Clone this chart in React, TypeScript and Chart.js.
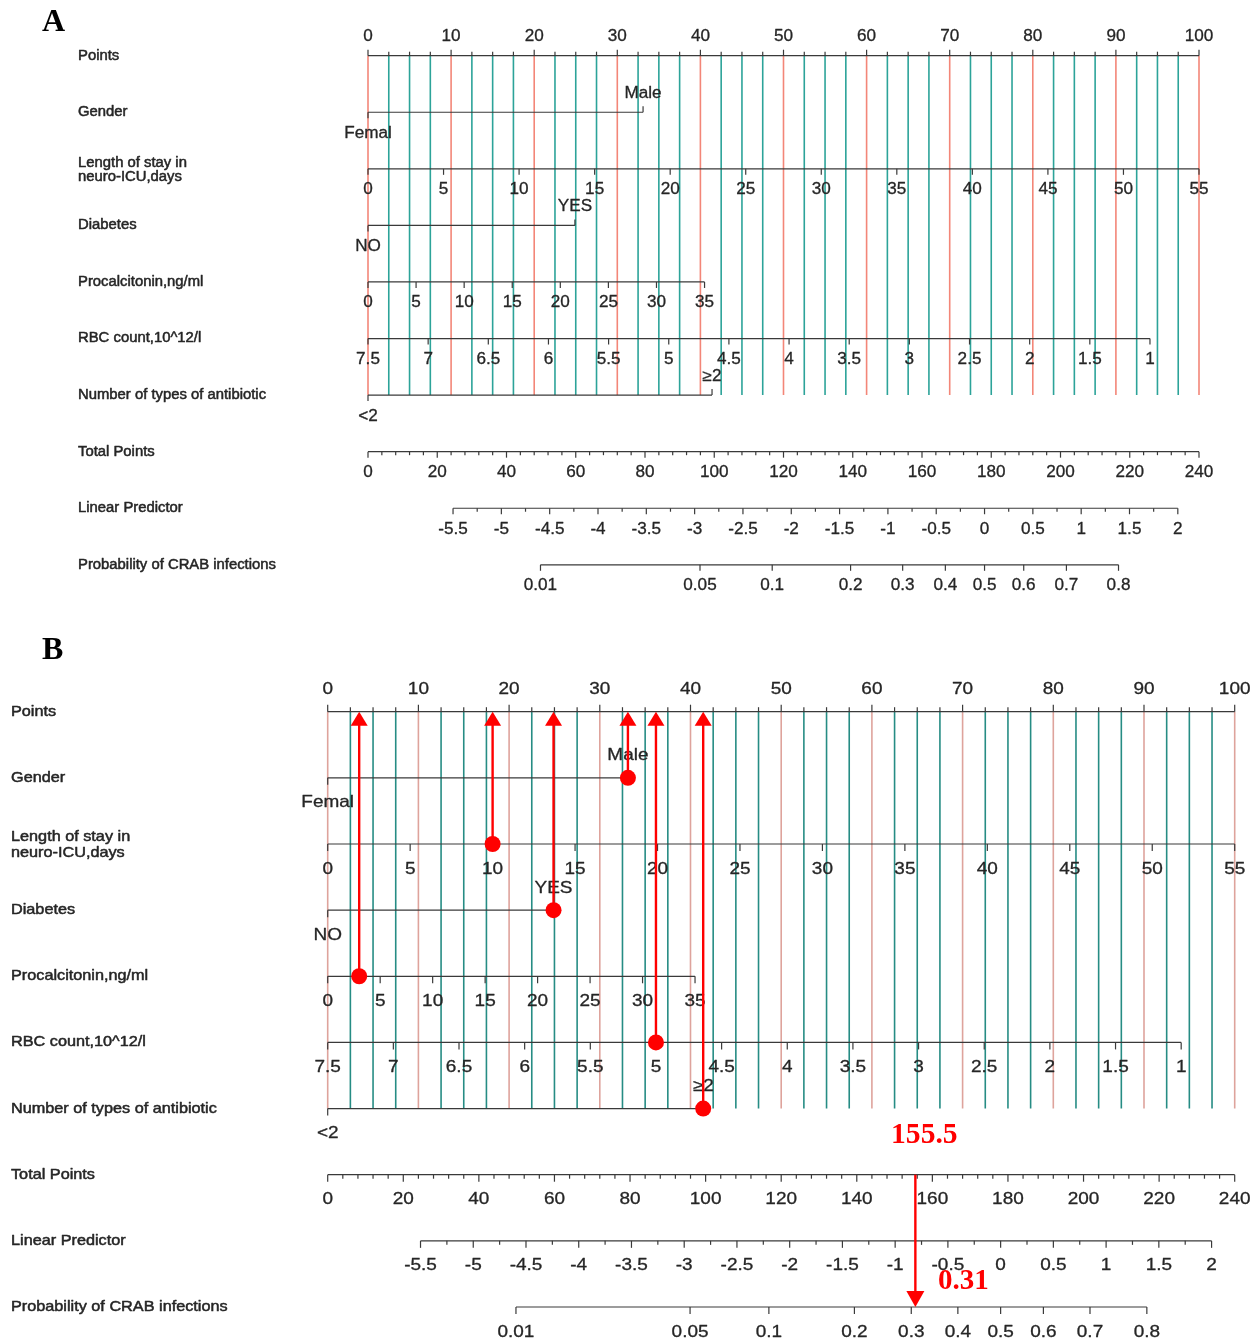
import React, { useEffect, useRef } from "react";
import { Chart, registerables } from "chart.js";

Chart.register(...registerables);

// ---------------- data ----------------
const ROW_LABELS = [
  "Points",
  "Gender",
  "Length of stay in\nneuro-ICU,days",
  "Diabetes",
  "Procalcitonin,ng/ml",
  "RBC count,10^12/l",
  "Number of types of antibiotic",
  "Total Points",
  "Linear Predictor",
  "Probability of CRAB infections",
];

const POINTS_TICKS = [0, 10, 20, 30, 40, 50, 60, 70, 80, 90, 100];
const POINTS_MINOR_STEP = 2.5;

const GENDER_LEVELS = ["Femal", "Male"];
const GENDER_POINTS = [0, 33.1];

const LOS_TICKS = [0, 5, 10, 15, 20, 25, 30, 35, 40, 45, 50, 55];
const LOS_POINTS_AT_MAX = 100;

const DIABETES_LEVELS = ["NO", "YES"];
const DIABETES_POINTS = [0, 24.9];

const PCT_TICKS = [0, 5, 10, 15, 20, 25, 30, 35];
const PCT_POINTS_AT_MAX = 40.5;

const RBC_TICKS = [7.5, 7, 6.5, 6, 5.5, 5, 4.5, 4, 3.5, 3, 2.5, 2, 1.5, 1];
const RBC_POINTS_AT_MIN = 94.1;

const ABX_LEVELS = ["<2", "≥2"];
const ABX_POINTS = [0, 41.4];

const TOTAL_TICKS = [0, 20, 40, 60, 80, 100, 120, 140, 160, 180, 200, 220, 240];
const TOTAL_MINOR_STEP = 4;

const LP_TICKS = [-5.5, -5, -4.5, -4, -3.5, -3, -2.5, -2, -1.5, -1, -0.5, 0, 0.5, 1, 1.5, 2];
const LP_MINOR_STEP = 0.25;
const LP_INTERCEPT = -6.38;
const LP_SLOPE = 0.03583;

const PROB_TICKS = [0.01, 0.05, 0.1, 0.2, 0.3, 0.4, 0.5, 0.6, 0.7, 0.8];

// example patient shown in panel B
const EXAMPLE_GENDER = 1; // Male
const EXAMPLE_LOS = 10;
const EXAMPLE_DIABETES = 1; // YES
const EXAMPLE_PCT = 3;
const EXAMPLE_RBC = 5;
const EXAMPLE_ABX = 1; // >=2
const EXAMPLE_TOTAL = 155.5;

// ---------------- value -> points mappings ----------------
const last = (a: number[]) => a[a.length - 1];
const losPts = (v: number) => (v / last(LOS_TICKS)) * LOS_POINTS_AT_MAX;
const pctPts = (v: number) => (v / last(PCT_TICKS)) * PCT_POINTS_AT_MAX;
const rbcPts = (v: number) =>
  ((RBC_TICKS[0] - v) / (RBC_TICKS[0] - last(RBC_TICKS))) * RBC_POINTS_AT_MIN;
const totPts = (v: number) => (v / last(TOTAL_TICKS)) * 100;
const lpPts = (lp: number) => totPts((lp - LP_INTERCEPT) / LP_SLOPE);
const probPts = (p: number) => lpPts(Math.log(p / (1 - p)));

type Style = {
  title: string;
  titleX: number;
  titleY: number;
  rowLabelX: number;
  rowFont: number;
  rowSx: number;
  rowLineGap: number;
  tickFont: number;
  tickSx: number;
  below: number;
  above: number;
  red: string;
  teal: string;
  gridW: number;
  axisColor: string;
  axisW: number;
  majorTick: number;
  minorTick: number;
  pointsMajorTick: number;
  pointsMinorTick: number;
};

const STYLE_A: Style = {
  title: "A",
  titleX: 42,
  titleY: 31,
  rowLabelX: 78,
  rowFont: 14,
  rowSx: 1.06,
  rowLineGap: 14,
  tickFont: 16,
  tickSx: 1.07,
  below: 21,
  above: -19,
  red: "rgb(243,134,120)",
  teal: "rgb(44,163,153)",
  gridW: 1.6,
  axisColor: "#3a3a3a",
  axisW: 1.2,
  majorTick: 6,
  minorTick: 3.5,
  pointsMajorTick: 6,
  pointsMinorTick: 4,
};

const STYLE_B: Style = {
  title: "B",
  titleX: 42,
  titleY: 39,
  rowLabelX: 11,
  rowFont: 14.5,
  rowSx: 1.12,
  rowLineGap: 16,
  tickFont: 16.5,
  tickSx: 1.15,
  below: 25,
  above: -22,
  red: "rgb(222,163,156)",
  teal: "rgb(38,140,132)",
  gridW: 1.6,
  axisColor: "#3a3a3a",
  axisW: 1.2,
  majorTick: 7,
  minorTick: 4,
  pointsMajorTick: 7,
  pointsMinorTick: 4.5,
};

const TEXT = "#262626";
const RED = "rgb(255,0,0)";

function seg(ctx: CanvasRenderingContext2D, x0: number, y0: number, x1: number, y1: number) {
  ctx.beginPath();
  ctx.moveTo(x0, y0);
  ctx.lineTo(x1, y1);
  ctx.stroke();
}

function drawText(
  ctx: CanvasRenderingContext2D,
  s: string,
  x: number,
  y: number,
  font: string,
  sx: number,
  align: CanvasTextAlign,
  baseline: CanvasTextBaseline,
  color: string,
  thicken = 0
) {
  ctx.save();
  ctx.translate(x, y);
  ctx.scale(sx, 1);
  ctx.font = font;
  ctx.textAlign = align;
  ctx.textBaseline = baseline;
  ctx.fillStyle = color;
  ctx.fillText(s, 0, 0);
  if (thicken > 0) {
    ctx.strokeStyle = color;
    ctx.lineWidth = thicken;
    ctx.lineJoin = "round";
    ctx.strokeText(s, 0, 0);
  }
  ctx.restore();
}

function nomogramPlugin(S: Style, example: boolean) {
  return {
    id: "nomogram" + S.title,
    beforeDatasetsDraw(chart: any) {
      const ctx: CanvasRenderingContext2D = chart.ctx;
      const X = (p: number) => chart.scales.x.getPixelForValue(p);
      const Y = (r: number) => chart.scales.y.getPixelForValue(r);
      ctx.save();

      // panel title
      drawText(ctx, S.title, S.titleX, S.titleY, 'bold 32px "Liberation Serif"', 1, "left", "alphabetic", "#000");

      // row labels
      const rowFont = `${S.rowFont}px "Liberation Sans"`;
      ROW_LABELS.forEach((lab, r) => {
        const lines = lab.split("\n");
        lines.forEach((ln, i) => {
          const y = Y(r) + (lines.length > 1 ? 1 : 0) + (i - (lines.length - 1) / 2) * S.rowLineGap;
          drawText(ctx, ln, S.rowLabelX, y, rowFont, S.rowSx, "left", "middle", TEXT, 0.5);
        });
      });

      // vertical reference lines
      const nMinor = Math.round(100 / POINTS_MINOR_STEP);
      ctx.lineWidth = S.gridW;
      for (let i = 0; i <= nMinor; i++) {
        const v = i * POINTS_MINOR_STEP;
        ctx.strokeStyle = POINTS_TICKS.includes(v) ? S.red : S.teal;
        seg(ctx, X(v), Y(0), X(v), Y(6));
      }

      // axes
      ctx.strokeStyle = S.axisColor;
      ctx.lineWidth = S.axisW;
      const tickFont = `${S.tickFont}px "Liberation Sans"`;
      const lbl = (s: string, x: number, y: number) =>
        drawText(ctx, s, x, y, tickFont, S.tickSx, "center", "middle", TEXT, 0.3);

      // Points
      {
        const y = Y(0);
        seg(ctx, X(0), y, X(100), y);
        for (let i = 0; i <= nMinor; i++) {
          const v = i * POINTS_MINOR_STEP;
          const len = POINTS_TICKS.includes(v) ? S.pointsMajorTick : S.pointsMinorTick;
          seg(ctx, X(v), y, X(v), y - len);
        }
        POINTS_TICKS.forEach((v) => lbl(String(v), X(v), y + S.above));
      }

      const cat = (row: number, levels: string[], pts: number[]) => {
        const y = Y(row);
        seg(ctx, X(pts[0]), y, X(pts[1]), y);
        seg(ctx, X(pts[0]), y, X(pts[0]), y + S.majorTick);
        seg(ctx, X(pts[1]), y, X(pts[1]), y - S.majorTick);
        lbl(levels[0], X(pts[0]), y + S.below);
        lbl(levels[1], X(pts[1]), y + S.above);
      };

      const cont = (
        row: number,
        ticks: number[],
        fn: (v: number) => number,
        minorStep?: number
      ) => {
        const y = Y(row);
        seg(ctx, X(fn(ticks[0])), y, X(fn(last(ticks))), y);
        if (minorStep) {
          const lo = Math.min(ticks[0], last(ticks));
          const hi = Math.max(ticks[0], last(ticks));
          const n = Math.round((hi - lo) / minorStep);
          for (let k = 0; k <= n; k++) {
            const v = lo + k * minorStep;
            if (ticks.some((t) => Math.abs(t - v) < 1e-9)) continue;
            seg(ctx, X(fn(v)), y, X(fn(v)), y + S.minorTick);
          }
        }
        ticks.forEach((v) => {
          seg(ctx, X(fn(v)), y, X(fn(v)), y + S.majorTick);
          lbl(String(v), X(fn(v)), y + S.below);
        });
      };

      cat(1, GENDER_LEVELS, GENDER_POINTS);
      cont(2, LOS_TICKS, losPts);
      cat(3, DIABETES_LEVELS, DIABETES_POINTS);
      cont(4, PCT_TICKS, pctPts);
      cont(5, RBC_TICKS, rbcPts);
      cat(6, ABX_LEVELS, ABX_POINTS);
      cont(7, TOTAL_TICKS, totPts, TOTAL_MINOR_STEP);
      cont(8, LP_TICKS, lpPts, LP_MINOR_STEP);
      cont(9, PROB_TICKS, probPts);

      ctx.restore();
    },
    afterDatasetsDraw(chart: any) {
      if (!example) return;
      const ctx: CanvasRenderingContext2D = chart.ctx;
      const X = (p: number) => chart.scales.x.getPixelForValue(p);
      const Y = (r: number) => chart.scales.y.getPixelForValue(r);
      ctx.save();
      ctx.strokeStyle = RED;
      ctx.fillStyle = RED;
      ctx.lineWidth = 2.4;

      const head = (x: number, tipY: number, dir: number, w: number, h: number) => {
        ctx.beginPath();
        ctx.moveTo(x, tipY);
        ctx.lineTo(x - w / 2, tipY - dir * h);
        ctx.lineTo(x + w / 2, tipY - dir * h);
        ctx.closePath();
        ctx.fill();
      };

      // up arrows from each chosen value to the Points axis
      const ds = chart.data.datasets[0].data as { x: number; y: number }[];
      ds.forEach((d) => {
        const x = X(d.x);
        const yTop = Y(0);
        seg(ctx, x, Y(d.y), x, yTop + 10);
        head(x, yTop, -1, 17, 14);
      });

      // down arrow from total points to probability
      const xt = X(totPts(EXAMPLE_TOTAL));
      const y7 = Y(7);
      const y9 = Y(9);
      seg(ctx, xt, y7, xt, y9 - 12);
      head(xt, y9, 1, 18, 16);

      const p = 1 / (1 + Math.exp(-(LP_INTERCEPT + LP_SLOPE * EXAMPLE_TOTAL)));
      drawText(ctx, String(EXAMPLE_TOTAL), xt + 9, y7 - 39, 'bold 29px "Liberation Serif"', 1.02, "center", "middle", RED);
      drawText(ctx, p.toFixed(2), xt + 48, y9 - 25, 'bold 29px "Liberation Serif"', 1.0, "center", "middle", RED);
      ctx.restore();
    },
  };
}

function makeConfig(S: Style, pad: any, example: boolean): any {
  const dots = [
    { x: GENDER_POINTS[EXAMPLE_GENDER], y: 1 },
    { x: losPts(EXAMPLE_LOS), y: 2 },
    { x: DIABETES_POINTS[EXAMPLE_DIABETES], y: 3 },
    { x: pctPts(EXAMPLE_PCT), y: 4 },
    { x: rbcPts(EXAMPLE_RBC), y: 5 },
    { x: ABX_POINTS[EXAMPLE_ABX], y: 6 },
  ];
  return {
    type: "scatter",
    data: {
      datasets: example
        ? [
            {
              data: dots,
              pointRadius: 8,
              pointHoverRadius: 8,
              pointBackgroundColor: RED,
              pointBorderWidth: 0,
              clip: false,
            },
          ]
        : [],
    },
    options: {
      responsive: false,
      animation: false,
      events: [],
      layout: { padding: pad },
      plugins: { legend: { display: false }, tooltip: { enabled: false } },
      scales: {
        x: { type: "linear", min: 0, max: 100, display: false },
        y: { type: "linear", min: 0, max: 9, reverse: true, display: false },
      },
    },
    plugins: [nomogramPlugin(S, example)],
  };
}

export default function App() {
  const refA = useRef<HTMLCanvasElement>(null);
  const refB = useRef<HTMLCanvasElement>(null);
  useEffect(() => {
    const a = new Chart(
      refA.current as HTMLCanvasElement,
      makeConfig(STYLE_A, { left: 368, right: 61, top: 55.7, bottom: 55.2 }, false)
    );
    const b = new Chart(
      refB.current as HTMLCanvasElement,
      makeConfig(STYLE_B, { left: 327.7, right: 25.3, top: 91.7, bottom: 36 }, true)
    );
    return () => {
      a.destroy();
      b.destroy();
    };
  }, []);
  return (
    <div style={{ position: "absolute", left: 0, top: 0, width: 1260, height: 1343, background: "#fff" }}>
      <canvas ref={refA} width={1260} height={620} style={{ position: "absolute", left: 0, top: 0 }} />
      <canvas ref={refB} width={1260} height={723} style={{ position: "absolute", left: 0, top: 620 }} />
    </div>
  );
}
